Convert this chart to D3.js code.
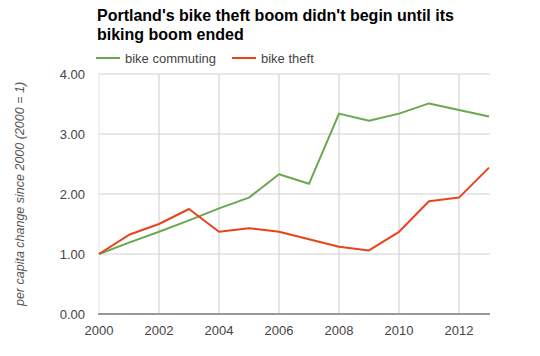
<!DOCTYPE html>
<html><head><meta charset="utf-8">
<script src="https://cdn.jsdelivr.net/npm/d3@7"></script>
<style>body{margin:0;background:#fff}svg{display:block;font-family:"Liberation Sans",Arial,sans-serif}</style>
</head><body><svg id="c" width="540" height="356"></svg>
<script>
const years = [2000,2001,2002,2003,2004,2005,2006,2007,2008,2009,2010,2011,2012,2013];
const bikeCommuting = [1.00,1.19,1.37,1.56,1.76,1.94,2.33,2.17,3.34,3.22,3.34,3.51,3.40,3.29];
const bikeTheft = [1.00,1.32,1.50,1.75,1.37,1.43,1.37,1.245,1.12,1.06,1.37,1.88,1.94,2.44];
const yTicks = [0,1,2,3,4];
const xTicks = [2000,2002,2004,2006,2008,2010,2012];
const seriesNames = ["bike commuting","bike theft"];
const colors = ["#6aa84f","#e8431d"];

const svg = d3.select("#c");
const x = d3.scaleLinear().domain([2000,2013]).range([99,489]);
const y = d3.scaleLinear().domain([0,4]).range([314,74]);

// title
svg.append("text").attr("x",97).attr("y",21).attr("font-size",16).attr("font-weight","bold").attr("fill","#000").text("Portland's bike theft boom didn't begin until its");
svg.append("text").attr("x",97).attr("y",40).attr("font-size",16).attr("font-weight","bold").attr("fill","#000").text("biking boom ended");

// legend
const leg = [{n:seriesNames[0],c:colors[0],x:96},{n:seriesNames[1],c:colors[1],x:232}];
leg.forEach(l=>{
  svg.append("line").attr("x1",l.x).attr("x2",l.x+24).attr("y1",58).attr("y2",58).attr("stroke",l.c).attr("stroke-width",2);
  svg.append("text").attr("x",l.x+29).attr("y",62.5).attr("font-size",13).attr("fill","#444").text(l.n);
});

// horizontal gridlines
svg.append("g").selectAll("line").data(yTicks.filter(d=>d>0)).join("line")
  .attr("x1",99).attr("x2",490).attr("y1",d=>y(d)).attr("y2",d=>y(d))
  .attr("stroke","#e8e8e8").attr("stroke-width",2);
// vertical gridlines
svg.append("g").selectAll("line").data(xTicks).join("line")
  .attr("x1",d=>x(d)).attr("x2",d=>x(d)).attr("y1",74).attr("y2",314)
  .attr("stroke",d=>d===2000?"#e4e4e4":"#cccccc").attr("stroke-width",1);
// baseline
svg.append("line").attr("x1",98).attr("x2",490).attr("y1",y(0)).attr("y2",y(0)).attr("stroke","#999").attr("stroke-width",2);

// y labels
svg.append("g").selectAll("text").data(yTicks).join("text")
  .attr("x",85).attr("y",d=>y(d)+4.5).attr("text-anchor","end").attr("font-size",13).attr("fill","#444")
  .text(d=>d3.format(".2f")(d));
// x labels
svg.append("g").selectAll("text").data(xTicks).join("text")
  .attr("x",d=>x(d)).attr("y",335).attr("text-anchor","middle").attr("font-size",13).attr("fill","#444")
  .text(d=>d);
// y title
svg.append("text").attr("transform","translate(24,194) rotate(-90)").attr("text-anchor","middle")
  .attr("font-size",12.5).attr("font-style","italic").attr("fill","#555").text("per capita change since 2000 (2000 = 1)");

// lines
const line = d3.line().x((d,i)=>x(years[i])).y(d=>y(d));
[bikeCommuting,bikeTheft].forEach((s,i)=>{
  svg.append("path").attr("d",line(s)).attr("fill","none").attr("stroke",colors[i]).attr("stroke-width",2).attr("stroke-linejoin","round");
});
</script></body></html>
